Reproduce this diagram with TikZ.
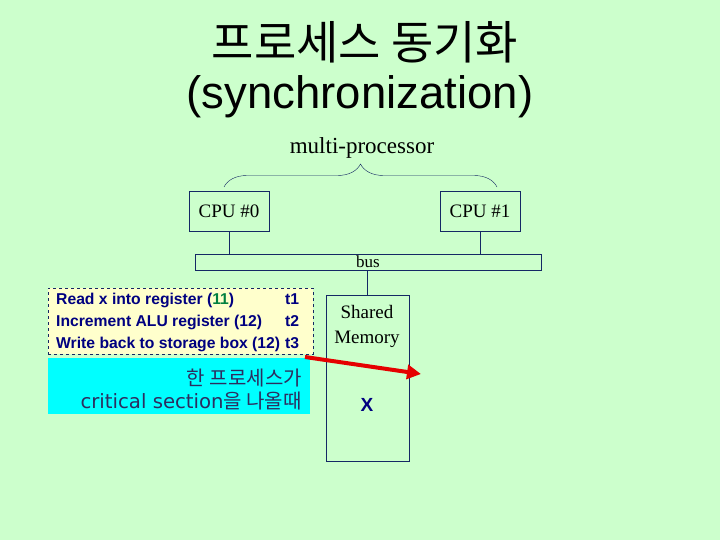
\documentclass[tikz,border=0pt]{standalone}
\usepackage{fontspec}
\setmainfont{Liberation Serif}
\newfontfamily\krfont{Noto Sans CJK KR}
\newfontfamily\arialfont{Liberation Sans}
\newfontfamily\widefont{DejaVu Sans}
\usetikzlibrary{arrows.meta,positioning,decorations.pathreplacing}

\definecolor{bgmint}{RGB}{204,255,204}
\definecolor{wirenavy}{RGB}{20,40,100}
\definecolor{notepale}{RGB}{255,255,204}
\definecolor{notecyan}{RGB}{0,255,255}
\definecolor{stepnavy}{RGB}{0,0,128}
\definecolor{stepgreen}{RGB}{0,128,64}
\definecolor{slatetext}{RGB}{45,45,95}

\tikzset{
  unitbox/.style={draw=wirenavy, line width=0.8pt, inner sep=0pt},
  link/.style={draw=wirenavy, line width=0.8pt},
  steptext/.style={anchor=base west, inner sep=0pt, text=stepnavy,
    font=\arialfont\bfseries\fontsize{15.7}{18}\selectfont},
}

\begin{document}
\begin{tikzpicture}[x=1pt,y=-1pt]
  \fill[bgmint] (0,0) rectangle (720,540);
  \useasboundingbox (0,0) rectangle (720,540);

  % title
  \node[font=\krfont\fontsize{46}{50}\selectfont] (title) at (365,42) {프로세스 동기화};
  \node[font=\arialfont\fontsize{45.5}{50}\selectfont] (subtitle) at (360,97) {(synchronization)};

  % processors and bus
  \node[font=\fontsize{23}{26}\selectfont] (multi) at (362,148) {multi-processor};
  \node[unitbox, minimum width=80, minimum height=40, font=\fontsize{19}{22}\selectfont] (cpu0) at (229,211) {CPU \#0};
  \node[unitbox, minimum width=80, minimum height=40, font=\fontsize{19}{22}\selectfont] (cpu1) at (480,211) {CPU \#1};
  \node[unitbox, minimum width=346, minimum height=16, font=\fontsize{17}{20}\selectfont] (bus) at (368,262) {bus};
  \node[unitbox, minimum width=83, minimum height=166] (mem) at (367.5,378) {};
  \node[align=center, font=\fontsize{19}{25}\selectfont] (memlabel) at (367,326) {Shared\\Memory};
  \node[text=stepnavy, font=\arialfont\bfseries\fontsize{19}{22}\selectfont] (xvar) at (367,405) {X};

  \coordinate (braceL) at (224,187);
  \coordinate (braceR) at (497,187);
  \draw[wirenavy, decorate, decoration={brace, amplitude=23pt}] (braceL) -- (braceR);

  \draw[link] (cpu0.south) -- (cpu0.south |- bus.north);
  \draw[link] (cpu1.south) -- (cpu1.south |- bus.north);
  \draw[link] (mem.north |- bus.south) -- (mem.north);

  % instruction steps
  \node[draw=wirenavy, dashed, fill=notepale, minimum width=265, minimum height=66, inner sep=0pt] (steps) at (180.5,321) {};
  \node[steptext] (step1) at (56,304) {Read x into register (\textcolor{stepgreen}{11})};
  \node[steptext] (step2) at (56,326) {Increment ALU register (12)};
  \node[steptext] (step3) at (56,348) {Write back to storage box (12)};
  \node[steptext] (t1) at (285,304) {t1};
  \node[steptext] (t2) at (285,326) {t2};
  \node[steptext] (t3) at (285,348) {t3};

  % leaving the critical section
  \node[fill=notecyan, minimum width=262, minimum height=56, inner sep=0pt] (leave) at (179,386) {};
  \node[anchor=east, align=right, text=slatetext, inner sep=0pt,
    font=\fontsize{20}{23}\selectfont] (leavetext) at (302,390)
    {{\krfont 한 프로세스가}\\{\widefont\fontsize{19.7}{23}\selectfont critical section}{\krfont 을 나올때}};

  \coordinate (fromcs) at (305,357);
  \coordinate (tomem) at (421,374);
  \draw[red!90!black, line width=4pt, -{Triangle[length=14pt,width=14pt]}] (fromcs) -- (tomem);
\end{tikzpicture}
\end{document}
